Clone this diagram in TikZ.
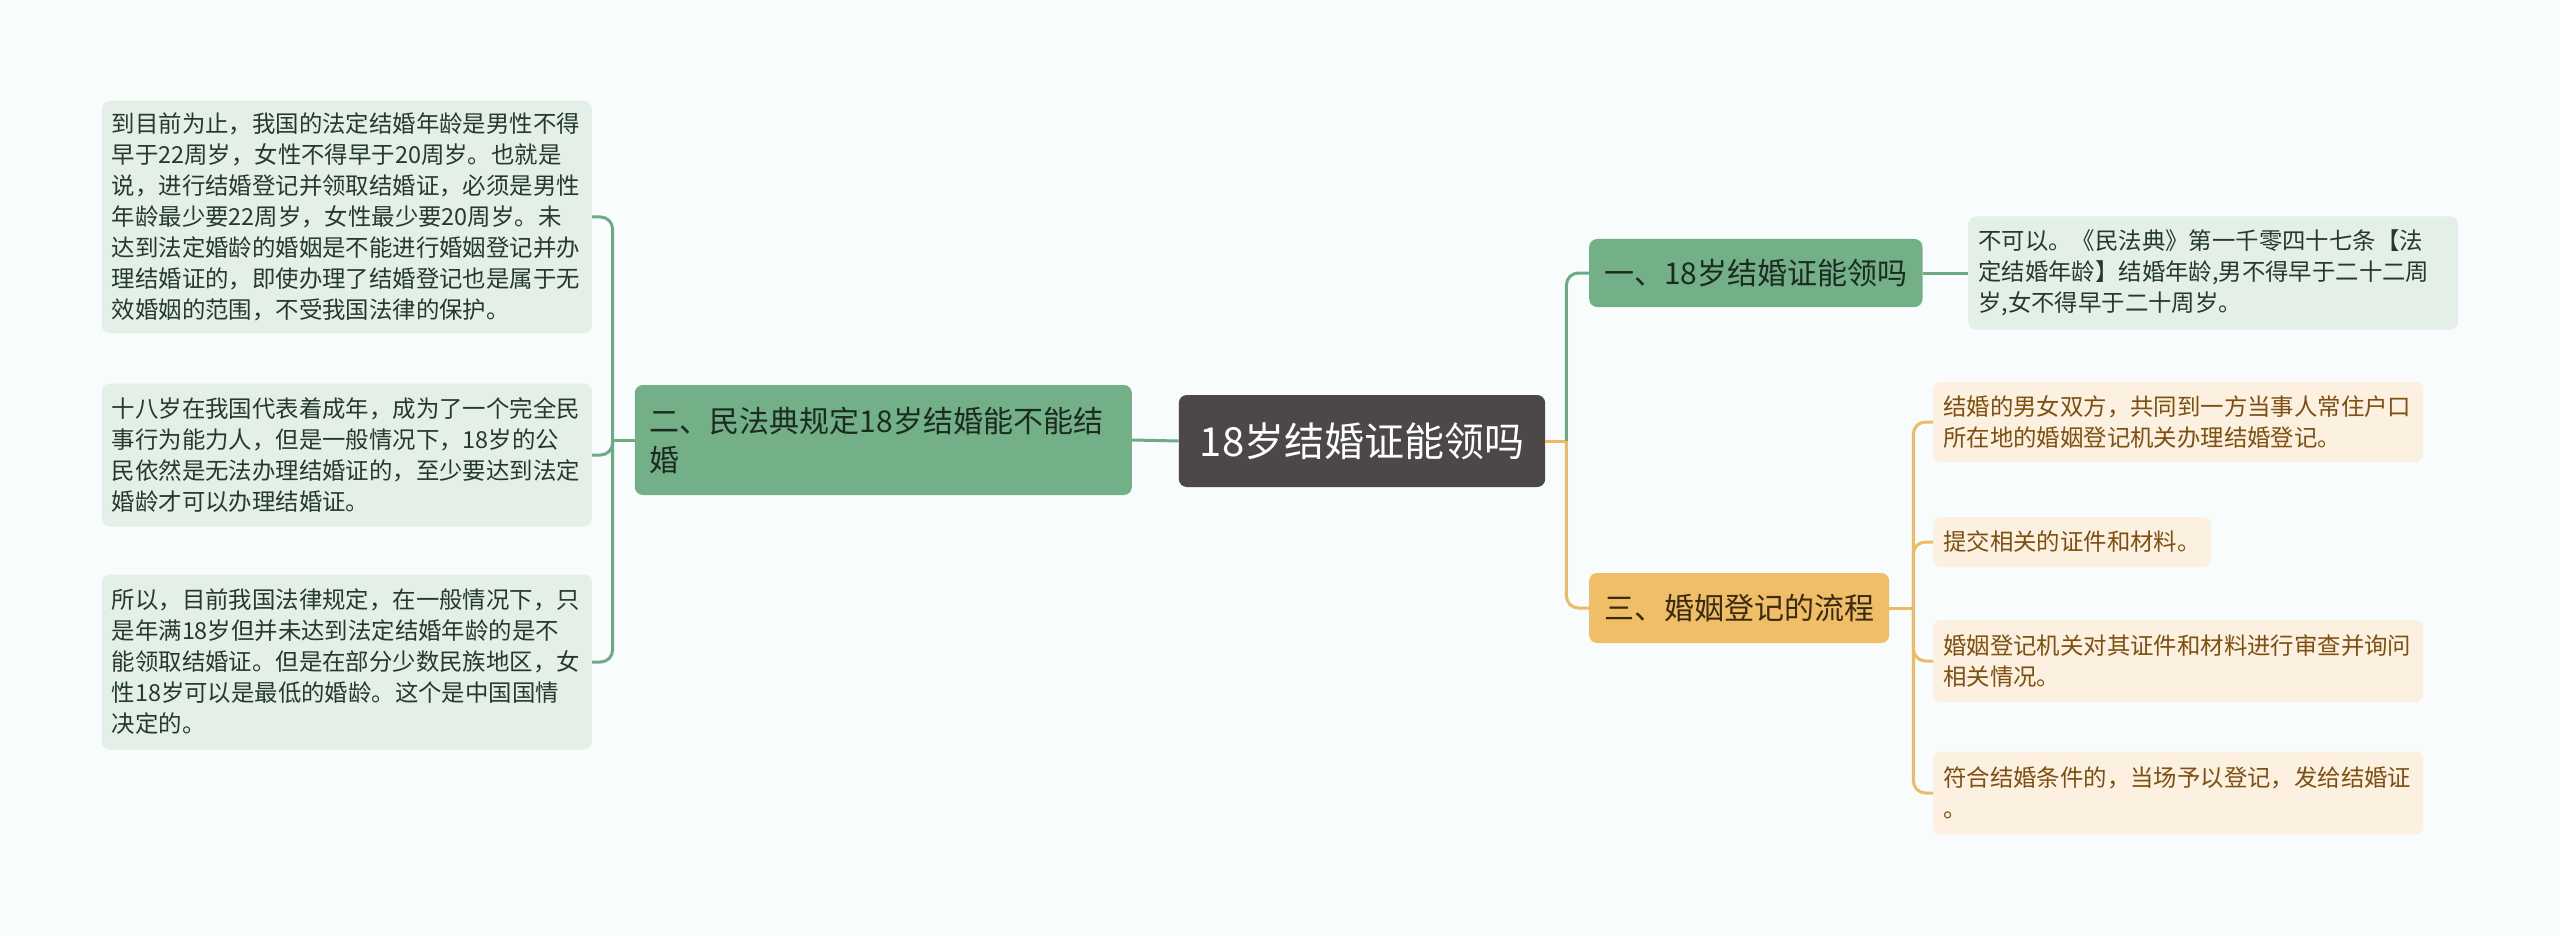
\documentclass[tikz,border=0pt]{standalone}
\usepackage{fontspec}
\setmainfont{Noto Sans CJK SC}
\usetikzlibrary{positioning}
\definecolor{bgcol}{HTML}{F8FCFC}
\definecolor{rootfill}{HTML}{4C4848}
\definecolor{greenmain}{HTML}{73B088}
\definecolor{greenleaf}{HTML}{E4EFE7}
\definecolor{greentext}{HTML}{1C2B20}
\definecolor{greenleaftext}{HTML}{233B2B}
\definecolor{orangemain}{HTML}{F0BE67}
\definecolor{orangeleaf}{HTML}{FCF0E1}
\definecolor{orangetext}{HTML}{3A2A10}
\definecolor{orangeleaftext}{HTML}{7D500F}
\definecolor{greenline}{HTML}{6DAB85}
\definecolor{orangeline}{HTML}{EEBB64}
\tikzset{
  basic/.style  = {rectangle, rounded corners=8pt, inner ysep=0pt, align=left},
  root/.style   = {basic, fill=rootfill, text=white, inner xsep=21pt,
                   font=\fontsize{40}{48}\selectfont, minimum height=92pt},
  level 2 green/.style  = {basic, fill=greenmain, text=greentext, inner xsep=15pt,
                   font=\fontsize{30}{39}\selectfont},
  level 2 orange/.style = {basic, fill=orangemain, text=orangetext, inner xsep=15pt,
                   font=\fontsize{30}{39}\selectfont},
  level 3 green/.style  = {basic, fill=greenleaf, text=greenleaftext, inner xsep=10pt,
                   text width=470pt, font=\fontsize{23.4}{31}\selectfont},
  level 3 orange/.style = {basic, fill=orangeleaf, text=orangeleaftext, inner xsep=10pt,
                   text width=470pt, font=\fontsize{23.4}{31}\selectfont},
  green line/.style  = {draw=greenline, line width=3pt},
  orange line/.style = {draw=orangeline, line width=3pt}
}

\begin{document}
\begin{tikzpicture}[x=1pt,y=-1pt]

\fill[bgcol] (0,0) rectangle (2560,936);
\useasboundingbox (0,0) rectangle (2560,936);

% root of the map
\node[root] (root) at (1362,441) {18岁结婚证能领吗};

% the first level
\node[level 2 green, minimum height=68pt, anchor=west] (c1) at (1589,273) {一、18岁结婚证能领吗};
\node[level 2 green, text width=467pt, minimum height=110pt, anchor=east] (c2) at (1132,440)
  {二、民法典规定18岁结婚能不能结\\婚};
\node[level 2 orange, minimum height=70pt, anchor=west] (c3) at (1589,608) {三、婚姻登记的流程};

% the second level, left side
\begin{scope}[every node/.style={level 3 green, anchor=east}]
\node[minimum height=232pt] (c21) at (592,217)
  {到目前为止，我国的法定结婚年龄是男性不得\\早于22周岁，女性不得早于20周岁。也就是\\说，进行结婚登记并领取结婚证，必须是男性\\年龄最少要22周岁，女性最少要20周岁。未\\达到法定婚龄的婚姻是不能进行婚姻登记并办\\理结婚证的，即使办理了结婚登记也是属于无\\效婚姻的范围，不受我国法律的保护。};
\node[minimum height=143pt] (c22) at (592,455)
  {十八岁在我国代表着成年，成为了一个完全民\\事行为能力人，但是一般情况下，18岁的公\\民依然是无法办理结婚证的，至少要达到法定\\婚龄才可以办理结婚证。};
\node[minimum height=175pt] (c23) at (592,662)
  {所以，目前我国法律规定，在一般情况下，只\\是年满18岁但并未达到法定结婚年龄的是不\\能领取结婚证。但是在部分少数民族地区，女\\性18岁可以是最低的婚龄。这个是中国国情\\决定的。};
\end{scope}

% the second level, right side
\node[level 3 green, minimum height=113pt, anchor=west] (c11) at (1968,273)
  {不可以。《民法典》第一千零四十七条【法\\定结婚年龄】结婚年龄,男不得早于二十二周\\岁,女不得早于二十周岁。};

\begin{scope}[every node/.style={level 3 orange, anchor=west}]
\node[minimum height=80pt] (c31) at (1933,422)
  {结婚的男女双方，共同到一方当事人常住户口\\所在地的婚姻登记机关办理结婚登记。};
\node[minimum height=50pt, text width=258pt] (c32) at (1933,542) {提交相关的证件和材料。};
\node[minimum height=82pt] (c33) at (1933,661)
  {婚姻登记机关对其证件和材料进行审查并询问\\相关情况。};
\node[minimum height=83pt] (c34) at (1933,793)
  {符合结婚条件的，当场予以登记，发给结婚证\\。};
\end{scope}

% lines from the root to the first level
\draw[green line] (c2.east) -- (root.west);
\draw[orange line] (root.east) -- ++(21,0) coordinate (j0);
\draw[orange line, rounded corners=12pt] (j0) |- (c3.west);
\draw[green line, rounded corners=12pt] (j0) |- (c1.west);

% lines from each first level node to its children
\draw[green line] (c1.east) -- (c11.west);

\draw[green line] (c2.west) -- ++(-22,0) coordinate (j2);
\foreach \value in {1,2,3}
  \draw[green line, rounded corners=12pt] (j2) |- (c2\value.east);

\draw[orange line] (c3.east) -- ++(24,0) coordinate (j3);
\foreach \value in {1,...,4}
  \draw[orange line, rounded corners=12pt] (j3) |- (c3\value.west);

\end{tikzpicture}
\end{document}
